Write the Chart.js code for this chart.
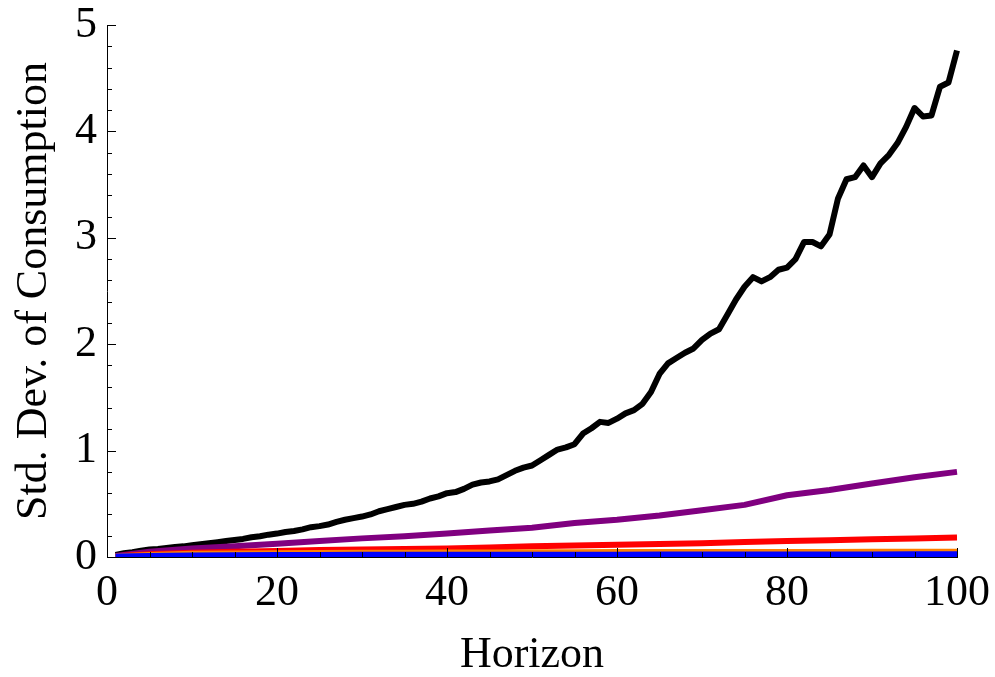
<!DOCTYPE html>
<html>
<head>
<meta charset="utf-8">
<script src="https://cdn.jsdelivr.net/npm/chart.js@4.4.1/dist/chart.umd.min.js"></script>
<style>
  body { margin: 0; background: #fff; }
  #sdChart { display: block; }
</style>
</head>
<body>
<canvas id="sdChart" width="995" height="677"></canvas>
<script>
// horizons for the jagged black series (one point per period)
var horizon = [];
for (var h = 1; h <= 100; h++) horizon.push(h);

var blackSd = [
  0.02, 0.035, 0.045, 0.06, 0.07, 0.075, 0.085, 0.095, 0.10, 0.11,
  0.12, 0.13, 0.14, 0.15, 0.16, 0.17, 0.185, 0.195, 0.21, 0.22,
  0.235, 0.245, 0.26, 0.28, 0.29, 0.305, 0.33, 0.35, 0.365, 0.38,
  0.40, 0.43, 0.45, 0.47, 0.49, 0.50, 0.52, 0.55, 0.57, 0.60,
  0.61, 0.64, 0.68, 0.70, 0.71, 0.73, 0.77, 0.81, 0.84, 0.86,
  0.91, 0.96, 1.01, 1.03, 1.06, 1.16, 1.21, 1.27, 1.26, 1.30,
  1.35, 1.38, 1.44, 1.55, 1.72, 1.82, 1.87, 1.92, 1.96, 2.04,
  2.10, 2.14, 2.28, 2.42, 2.54, 2.63, 2.59, 2.63, 2.70, 2.72,
  2.80, 2.96, 2.96, 2.92, 3.03, 3.37, 3.55, 3.57, 3.68, 3.57,
  3.70, 3.78, 3.89, 4.04, 4.22, 4.14, 4.15, 4.42, 4.46, 4.76
];

// smoother series, read every 5 periods
var horizonCoarse = [1, 5, 10, 15, 20, 25, 30, 35, 40, 45, 50, 55, 60, 65, 70, 75, 80, 85, 90, 95, 100];
var purpleSd = [0.01, 0.05, 0.08, 0.10, 0.125, 0.15, 0.175, 0.195, 0.22, 0.25, 0.275, 0.32, 0.35, 0.39, 0.44, 0.49, 0.58, 0.63, 0.69, 0.75, 0.80];
var redSd    = [0.008, 0.025, 0.04, 0.05, 0.056, 0.065, 0.07, 0.075, 0.08, 0.09, 0.10, 0.107, 0.115, 0.122, 0.13, 0.14, 0.15, 0.158, 0.166, 0.175, 0.183];
var orangeSd = [0.005, 0.02, 0.03, 0.033, 0.035, 0.038, 0.04, 0.041, 0.042, 0.043, 0.045, 0.045, 0.046, 0.046, 0.047, 0.047, 0.048, 0.048, 0.049, 0.049, 0.05];
var blueSd   = [0.004, 0.01, 0.015, 0.017, 0.018, 0.019, 0.02, 0.02, 0.021, 0.021, 0.022, 0.022, 0.022, 0.023, 0.023, 0.023, 0.024, 0.024, 0.024, 0.025, 0.025];

var yTickLabels = ['0', '1', '2', '3', '4', '5'];
var xTickLabels = ['0', '20', '40', '60', '80', '100'];

function points(xs, ys) {
  return xs.map(function(x, i) { return { x: x, y: ys[i] }; });
}

var serif = '"Liberation Serif", "Times New Roman", serif';

// Mathematica-style inward tick marks
var inwardTicks = {
  id: 'inwardTicks',
  afterDatasetsDraw: function(chart) {
    var ctx = chart.ctx;
    var area = chart.chartArea;
    var xs = chart.scales.x, ys = chart.scales.y;
    ctx.save();
    ctx.strokeStyle = '#000';
    ctx.lineWidth = 1;
    for (var v = 0; v <= 100; v += 5) {
      var px = Math.round(xs.getPixelForValue(v)) + 0.5;
      var len = (v % 20 === 0) ? 9 : 5;
      ctx.beginPath();
      ctx.moveTo(px, area.bottom);
      ctx.lineTo(px, area.bottom - len);
      ctx.stroke();
    }
    for (var k = 0; k <= 25; k++) {
      var py = Math.round(ys.getPixelForValue(k * 0.2)) + 0.5;
      var l2 = (k % 5 === 0) ? 9 : 5;
      ctx.beginPath();
      ctx.moveTo(area.left, py);
      ctx.lineTo(area.left + l2, py);
      ctx.stroke();
    }
    ctx.restore();
  }
};

var lineStyle = {
  pointRadius: 0, borderWidth: 6, tension: 0, fill: false,
  borderJoinStyle: 'round',
  clip: { left: 5, top: 5, right: 5, bottom: 0 }
};

var ctx = document.getElementById('sdChart').getContext('2d');
var sdChart = new Chart(ctx, {
  type: 'line',
  data: {
    datasets: [
      Object.assign({ label: 'blue', data: points(horizonCoarse, blueSd), borderColor: '#0000ff' }, lineStyle),
      Object.assign({ label: 'orange', data: points(horizonCoarse, orangeSd), borderColor: '#ff8000' }, lineStyle),
      Object.assign({ label: 'red', data: points(horizonCoarse, redSd), borderColor: '#ff0000' }, lineStyle),
      Object.assign({ label: 'purple', data: points(horizonCoarse, purpleSd), borderColor: '#800080' }, lineStyle),
      Object.assign({ label: 'black', data: points(horizon, blackSd), borderColor: '#000000' }, lineStyle)
    ]
  },
  options: {
    responsive: false,
    animation: false,
    maintainAspectRatio: false,
    layout: { padding: { top: 25, right: 38, left: 0, bottom: 0 } },
    plugins: {
      legend: { display: false },
      tooltip: { enabled: false }
    },
    scales: {
      x: {
        type: 'linear',
        min: 0,
        max: 100,
        afterFit: function(scale) {
          scale.height = 120;
          scale.paddingLeft = 0;
          scale.paddingRight = 0;
        },
        grid: { display: false, drawTicks: false },
        border: { display: true, color: '#000', width: 1 },
        ticks: {
          stepSize: 20,
          padding: 10,
          color: '#000',
          font: { family: serif, size: 44 },
          maxRotation: 0,
          callback: function(value) { return xTickLabels[value / 20]; }
        },
        title: {
          display: true,
          text: 'Horizon',
          color: '#000',
          font: { family: serif, size: 44, lineHeight: 1 },
          padding: { top: 0, bottom: 0 }
        }
      },
      y: {
        min: 0,
        max: 5,
        afterFit: function(scale) {
          scale.width = 107;
          scale.paddingTop = 0;
          scale.paddingBottom = 0;
        },
        grid: { display: false, drawTicks: false },
        border: { display: true, color: '#000', width: 1 },
        ticks: {
          stepSize: 1,
          padding: 10,
          color: '#000',
          font: { family: serif, size: 44 },
          callback: function(value) { return yTickLabels[value]; }
        },
        title: {
          display: true,
          text: 'Std. Dev. of Consumption',
          color: '#000',
          font: { family: serif, size: 44, lineHeight: 1 },
          padding: { top: 12, bottom: 0 }
        }
      }
    }
  },
  plugins: [inwardTicks]
});
</script>
</body>
</html>
